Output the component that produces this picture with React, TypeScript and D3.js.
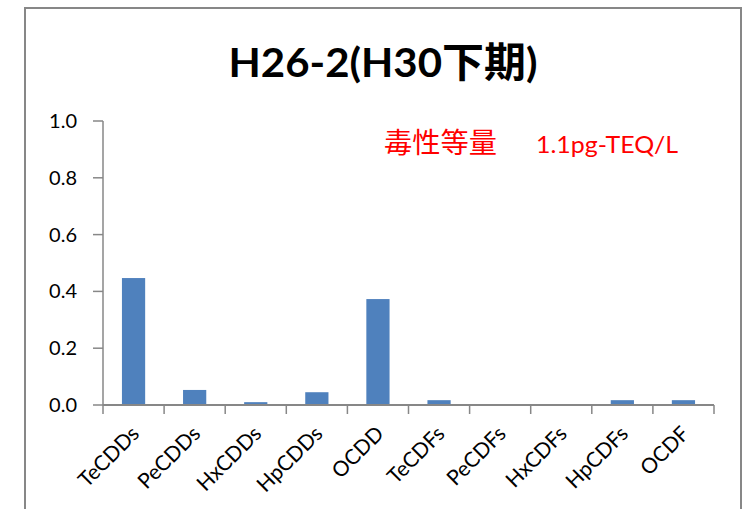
import React from "react";
import * as d3 from "d3";

const categories = ["TeCDDs", "PeCDDs", "HxCDDs", "HpCDDs", "OCDD", "TeCDFs", "PeCDFs", "HxCDFs", "HpCDFs", "OCDF"];
const values = [0.447, 0.053, 0.01, 0.045, 0.373, 0.017, 0, 0, 0.017, 0.017];
const yTicks = [0, 0.2, 0.4, 0.6, 0.8, 1.0];
const title = "H26-2(H30下期)";
const noteLabel = "毒性等量";
const noteValue = "1.1pg-TEQ/L";

const W = 743, H = 509;
const left = 103, right = 714, top = 121, bottom = 405;
const font = "Lato, 'Noto Sans CJK JP', sans-serif";

export default function App() {
  const x = d3.scaleBand<string>().domain(categories).range([left, right]).paddingInner(0.62).paddingOuter(0.31);
  const xb = d3.scaleBand<string>().domain(categories).range([left, right]);
  const y = d3.scaleLinear().domain([0, 1]).range([bottom, top]);
  return (
    <svg width={W} height={H} style={{ position: "absolute", left: 0, top: 0 }}>
      <rect x={0} y={0} width={W} height={H} fill="#fff" />
      <path d={`M25,${H + 5}V8H741V${H + 5}`} fill="none" stroke="#878787" strokeWidth={2} />
      <text x={383} y={77} textAnchor="middle" fontFamily={font} fontWeight="bold" fontSize={41} fill="#000" textLength={309} lengthAdjust="spacingAndGlyphs">{title}</text>
      <line x1={left} x2={left} y1={top} y2={bottom} stroke="#878787" strokeWidth={1.5} />
      {yTicks.map(t => (
        <g key={t}>
          <line x1={93} x2={left} y1={y(t)} y2={y(t)} stroke="#878787" strokeWidth={1.5} />
          <text x={77} y={y(t) + 7} textAnchor="end" fontFamily={font} fontSize={20} fill="#000">{t.toFixed(1)}</text>
        </g>
      ))}
      {values.map((v, i) => (
        <rect key={categories[i]} x={x(categories[i])!} width={x.bandwidth()} y={y(v)} height={bottom - y(v)} fill="#4f81bd" />
      ))}
      <line x1={left} x2={right} y1={bottom} y2={bottom} stroke="#878787" strokeWidth={2} />
      {categories.map((c, i) => (
        <line key={"t" + c} x1={xb(c)!} x2={xb(c)!} y1={bottom} y2={bottom + 9} stroke="#878787" strokeWidth={1.5} />
      ))}
      <line x1={right} x2={right} y1={bottom} y2={bottom + 9} stroke="#878787" strokeWidth={1.5} />
      {categories.map(c => {
        const cx = xb(c)! + xb.bandwidth() / 2 + 7;
        return (
          <text key={"l" + c} transform={`translate(${cx},${bottom + 30}) rotate(-45)`} textAnchor="end" fontFamily={font} fontSize={21} fill="#000">{c}</text>
        );
      })}
      <text x={384} y={153} fontFamily={font} fontSize={28} fill="#ff0000" textLength={113} lengthAdjust="spacingAndGlyphs">{noteLabel}</text>
      <text x={536} y={153} fontFamily={font} fontSize={24} fill="#ff0000" textLength={142} lengthAdjust="spacingAndGlyphs">{noteValue}</text>
    </svg>
  );
}
